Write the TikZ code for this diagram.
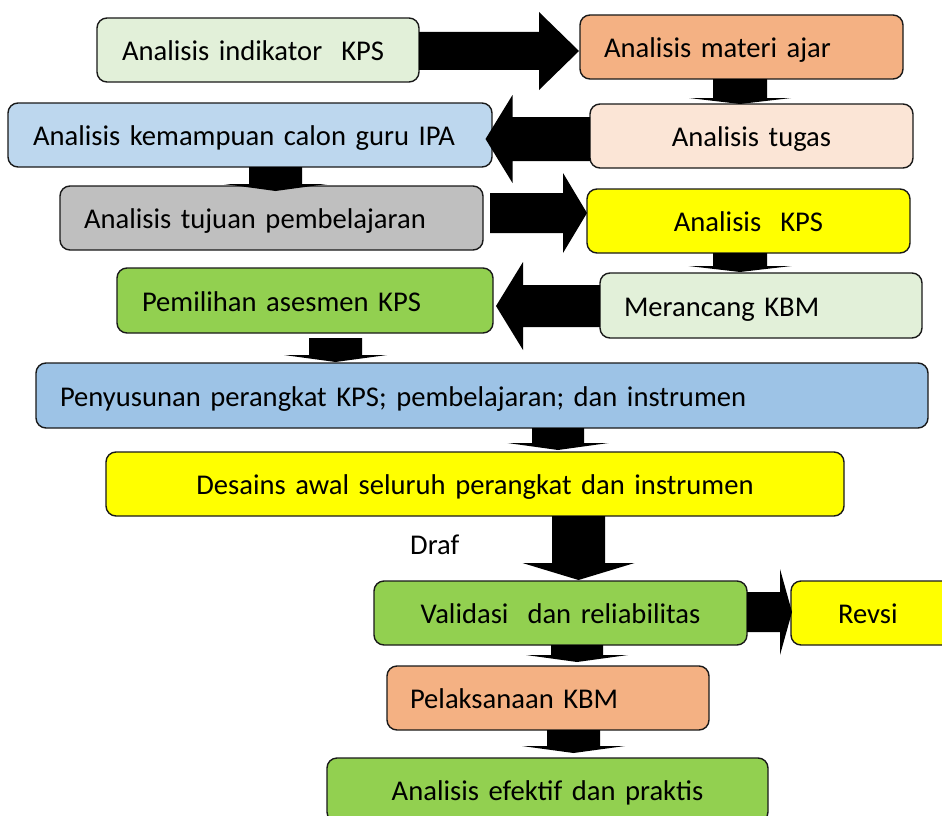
\documentclass[tikz,border=0pt]{standalone}
\usepackage{fontspec}
\setmainfont{Carlito}
\usetikzlibrary{calc}
\definecolor{cLgreen}{HTML}{E2F0D9}
\definecolor{cOrange}{HTML}{F4B183}
\definecolor{cLblue}{HTML}{BDD7EE}
\definecolor{cPeach}{HTML}{FBE5D6}
\definecolor{cGray}{HTML}{BFBFBF}
\definecolor{cYellow}{HTML}{FFFF00}
\definecolor{cGreen}{HTML}{92D050}
\definecolor{cBlue}{HTML}{9DC3E6}
\newcommand\boxfont{\fontsize{28.6}{34}\selectfont}
% down arrow: from, to, x centre, shaft half width, head half width, head length, start offset, tip gap
\newcommand\ardown[8]{%
 \fill[arr] let \p1=(#1.south), \p2=(#2.north) in
 ({#3pt-#4pt},{\y1-(#7pt)}) -- ({#3pt+#4pt},{\y1-(#7pt)})
 -- ({#3pt+#4pt},{\y2+(#8pt)+#6pt}) -- ({#3pt+#5pt},{\y2+(#8pt)+#6pt})
 -- ({#3pt},{\y2+(#8pt)}) -- ({#3pt-#5pt},{\y2+(#8pt)+#6pt})
 -- ({#3pt-#4pt},{\y2+(#8pt)+#6pt}) -- cycle;}
% right arrow: from, to, y centre (pixels down), shaft hw, head hw, head length, start offset, tip gap
\newcommand\arright[8]{%
 \fill[arr] let \p1=(#1.east), \p2=(#2.west) in
 ({\x1+(#7pt)},{-#3pt+#4pt}) -- ({\x2-(#8pt)-#6pt},{-#3pt+#4pt})
 -- ({\x2-(#8pt)-#6pt},{-#3pt+#5pt}) -- ({\x2-(#8pt)},{-#3pt})
 -- ({\x2-(#8pt)-#6pt},{-#3pt-#5pt}) -- ({\x2-(#8pt)-#6pt},{-#3pt-#4pt})
 -- ({\x1+(#7pt)},{-#3pt-#4pt}) -- cycle;}
% left arrow
\newcommand\arleft[8]{%
 \fill[arr] let \p1=(#1.west), \p2=(#2.east) in
 ({\x1-(#7pt)},{-#3pt+#4pt}) -- ({\x2+(#8pt)+#6pt},{-#3pt+#4pt})
 -- ({\x2+(#8pt)+#6pt},{-#3pt+#5pt}) -- ({\x2+(#8pt)},{-#3pt})
 -- ({\x2+(#8pt)+#6pt},{-#3pt-#5pt}) -- ({\x2+(#8pt)+#6pt},{-#3pt-#4pt})
 -- ({\x1-(#7pt)},{-#3pt-#4pt}) -- cycle;}
\tikzset{
 box/.style={draw=black!90, line width=1.4pt, rounded corners=10pt,
   inner ysep=0pt, outer sep=0pt, font=\boxfont, text height=21pt, text depth=0pt},
 arr/.style={fill=black},
}
\begin{document}
\begin{tikzpicture}[x=1pt,y=1pt]
\useasboundingbox (0,0) rectangle (942,-816);
% boxes
\node[box, fill=cLgreen, align=left, inner xsep=25pt, text width=272pt, minimum height=64pt] (b1) at (258,-50) {Analisis indikator~ KPS};
\node[box, fill=cOrange, align=left, inner xsep=24pt, text width=275pt, minimum height=64pt] (b2) at (741.5,-47) {Analisis materi ajar};
\node[box, fill=cLblue, align=left, inner xsep=25pt, text width=434pt, minimum height=64pt] (b3) at (250,-135) {Analisis kemampuan calon guru IPA};
\node[box, fill=cPeach, align=center, inner xsep=24pt, text width=275pt, minimum height=64pt] (b4) at (751.5,-136) {Analisis tugas};
\node[box, fill=cGray, align=left, inner xsep=24pt, text width=375pt, minimum height=64pt] (b5) at (271.5,-218) {Analisis tujuan pembelajaran};
\node[box, fill=cYellow, align=center, inner xsep=24pt, text width=275pt, minimum height=64pt] (b6) at (748.5,-221) {Analisis~ KPS};
\node[box, fill=cGreen, align=left, inner xsep=25pt, text width=326pt, minimum height=65pt] (b7) at (305,-300.5) {Pemilihan asesmen KPS};
\node[box, fill=cLgreen, align=left, inner xsep=24pt, text width=274pt, minimum height=65pt] (b8) at (761,-305.5) {Merancang KBM};
\node[box, fill=cBlue, align=left, inner xsep=24pt, text width=844pt, minimum height=65pt] (b9) at (482,-395.5) {Penyusunan perangkat KPS; pembelajaran; dan instrumen};
\node[box, fill=cYellow, align=center, inner xsep=24pt, text width=690pt, minimum height=64pt] (b10) at (475,-484) {Desains awal seluruh perangkat dan instrumen};
\node[box, fill=cGreen, align=center, inner xsep=24pt, text width=325pt, minimum height=64pt] (b11) at (560.5,-613) {Validasi~ dan reliabilitas};
\node[box, fill=cYellow, align=left, inner xsep=47pt, text width=75pt, minimum height=64pt] (b12) at (875.5,-613) {Revsi};
\node[box, fill=cOrange, align=left, inner xsep=23pt, text width=276pt, minimum height=64pt] (b13) at (548,-698) {Pelaksanaan KBM};
\node[box, fill=cGreen, align=center, inner xsep=24pt, text width=393pt, minimum height=64pt] (b14) at (547.5,-790) {Analisis efektif dan praktis};
\node[font=\boxfont, inner sep=0pt, anchor=base west] (draf) at (410,-554) {Draf};
% arrows
\arright{b1}{b2}{51}{19}{39}{40}{0}{1}
\ardown{b2}{b4}{740}{27}{51}{6}{0}{0}
\arleft{b4}{b3}{139}{22}{44}{27}{0}{-6.5}
\ardown{b3}{b5}{275.5}{26.5}{51.5}{7}{0}{-5}
\arright{b5}{b6}{213}{20}{40}{24}{7}{0}
\ardown{b6}{b8}{740}{27}{51.5}{6}{0}{1}
\arleft{b8}{b7}{306}{21}{44}{27}{0}{3}
\ardown{b7}{b9}{335.5}{26.5}{51.5}{7}{5}{1}
\ardown{b9}{b10}{558}{26}{50.5}{7}{0}{2}
\ardown{b10}{b11}{578.5}{26.5}{56}{17}{0}{1}
\arright{b11}{b12}{612}{20}{43}{12}{0}{-1}
\ardown{b11}{b13}{577}{26}{51}{7}{0}{4}
\ardown{b13}{b14}{573.5}{26.5}{51.5}{7}{0}{5}
\end{tikzpicture}
\end{document}
